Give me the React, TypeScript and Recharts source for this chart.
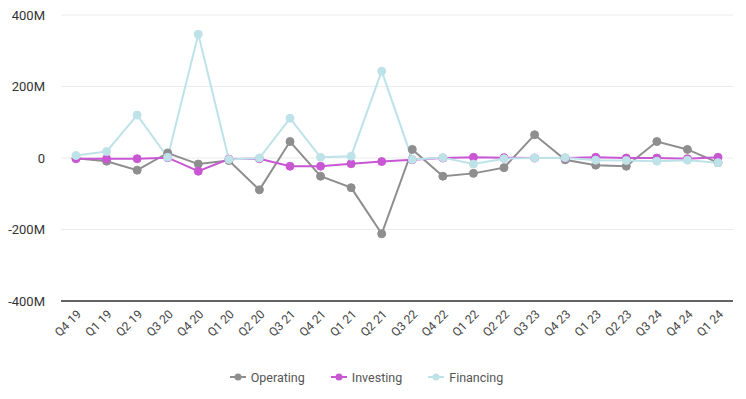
import React from "react";
import {
  CartesianGrid,
  Legend,
  Line,
  LineChart,
  XAxis,
  YAxis,
} from "recharts";

const quarters = [
  "Q4 19", "Q1 19", "Q2 19", "Q3 20", "Q4 20", "Q1 20", "Q2 20", "Q3 21",
  "Q4 21", "Q1 21", "Q2 21", "Q3 22", "Q4 22", "Q1 22", "Q2 22", "Q3 23",
  "Q4 23", "Q1 23", "Q2 23", "Q3 24", "Q4 24", "Q1 24",
];

// values in millions
const operating = [
  -1, -9, -34, 14, -17, -7, -89, 46, -51, -83, -212, 24, -51, -43, -27, 65,
  -5, -20, -23, 46, 24, -13,
];
const investing = [
  -2, -2, -2, 1, -37, -3, -2, -23, -23, -16, -10, -5, 0, 2, 1, 0, 0, 2, 0, 0,
  -2, 2,
];
const financing = [
  7, 18, 120, 2, 346, -4, 0, 111, 2, 5, 243, -4, 1, -17, -2, 0, 1, -6, -7, -9,
  -6, -13,
];

const yTicks = [-400, -200, 0, 200, 400];

const data = quarters.map((q, i) => ({
  quarter: q,
  Operating: operating[i],
  Investing: investing[i],
  Financing: financing[i],
}));

const fmtM = (v: number) => (v === 0 ? "0" : `${v}M`);

const series = [
  { key: "Operating", color: "#8e8e8e" },
  { key: "Investing", color: "#c957d4" },
  { key: "Financing", color: "#bde2e8" },
];

const LegendContent = () => (
  <div
    style={{
      display: "flex",
      justifyContent: "center",
      alignItems: "center",
      height: 28,
      fontFamily: "Roboto",
      fontSize: 12.5,
      color: "#555",
    }}
  >
    {series.map((s) => (
      <span
        key={s.key}
        style={{ display: "inline-flex", alignItems: "center", margin: "0 13px" }}
      >
        <svg width={16} height={10} style={{ marginRight: 5 }}>
          <line x1={0} y1={5} x2={16} y2={5} stroke={s.color} strokeWidth={2} />
          <circle cx={8} cy={5} r={3.5} fill={s.color} />
        </svg>
        {s.key}
      </span>
    ))}
  </div>
);

export default function App() {
  return (
    <div style={{ position: "absolute", left: 0, top: 0 }}>
      <LineChart
        width={746}
        height={399}
        data={data}
        margin={{ top: 15, right: 13, left: 0, bottom: 8 }}
      >
        <CartesianGrid vertical={false} stroke="#ebebeb" />
        <XAxis
          dataKey="quarter"
          interval={0}
          angle={-45}
          textAnchor="end"
          height={62}
          padding={{ left: 15, right: 15 }}
          tickLine={false}
          axisLine={{ stroke: "#333", strokeWidth: 1.5 }}
          tick={{ fontSize: 12, fill: "#444", fontFamily: "Roboto" }}
        />
        <YAxis
          width={61}
          domain={[-400, 400]}
          ticks={yTicks}
          tickFormatter={fmtM}
          axisLine={false}
          tickLine={false}
          tickMargin={10}
          tick={{ fontSize: 13, fill: "#333", fontFamily: "Roboto" }}
        />
        <Legend height={28} content={<LegendContent />} />
        {series.map((s) => (
          <Line
            key={s.key}
            dataKey={s.key}
            stroke={s.color}
            strokeWidth={2}
            dot={{ r: 4, fill: s.color, stroke: s.color, strokeWidth: 1 }}
            isAnimationActive={false}
          />
        ))}
      </LineChart>
    </div>
  );
}
